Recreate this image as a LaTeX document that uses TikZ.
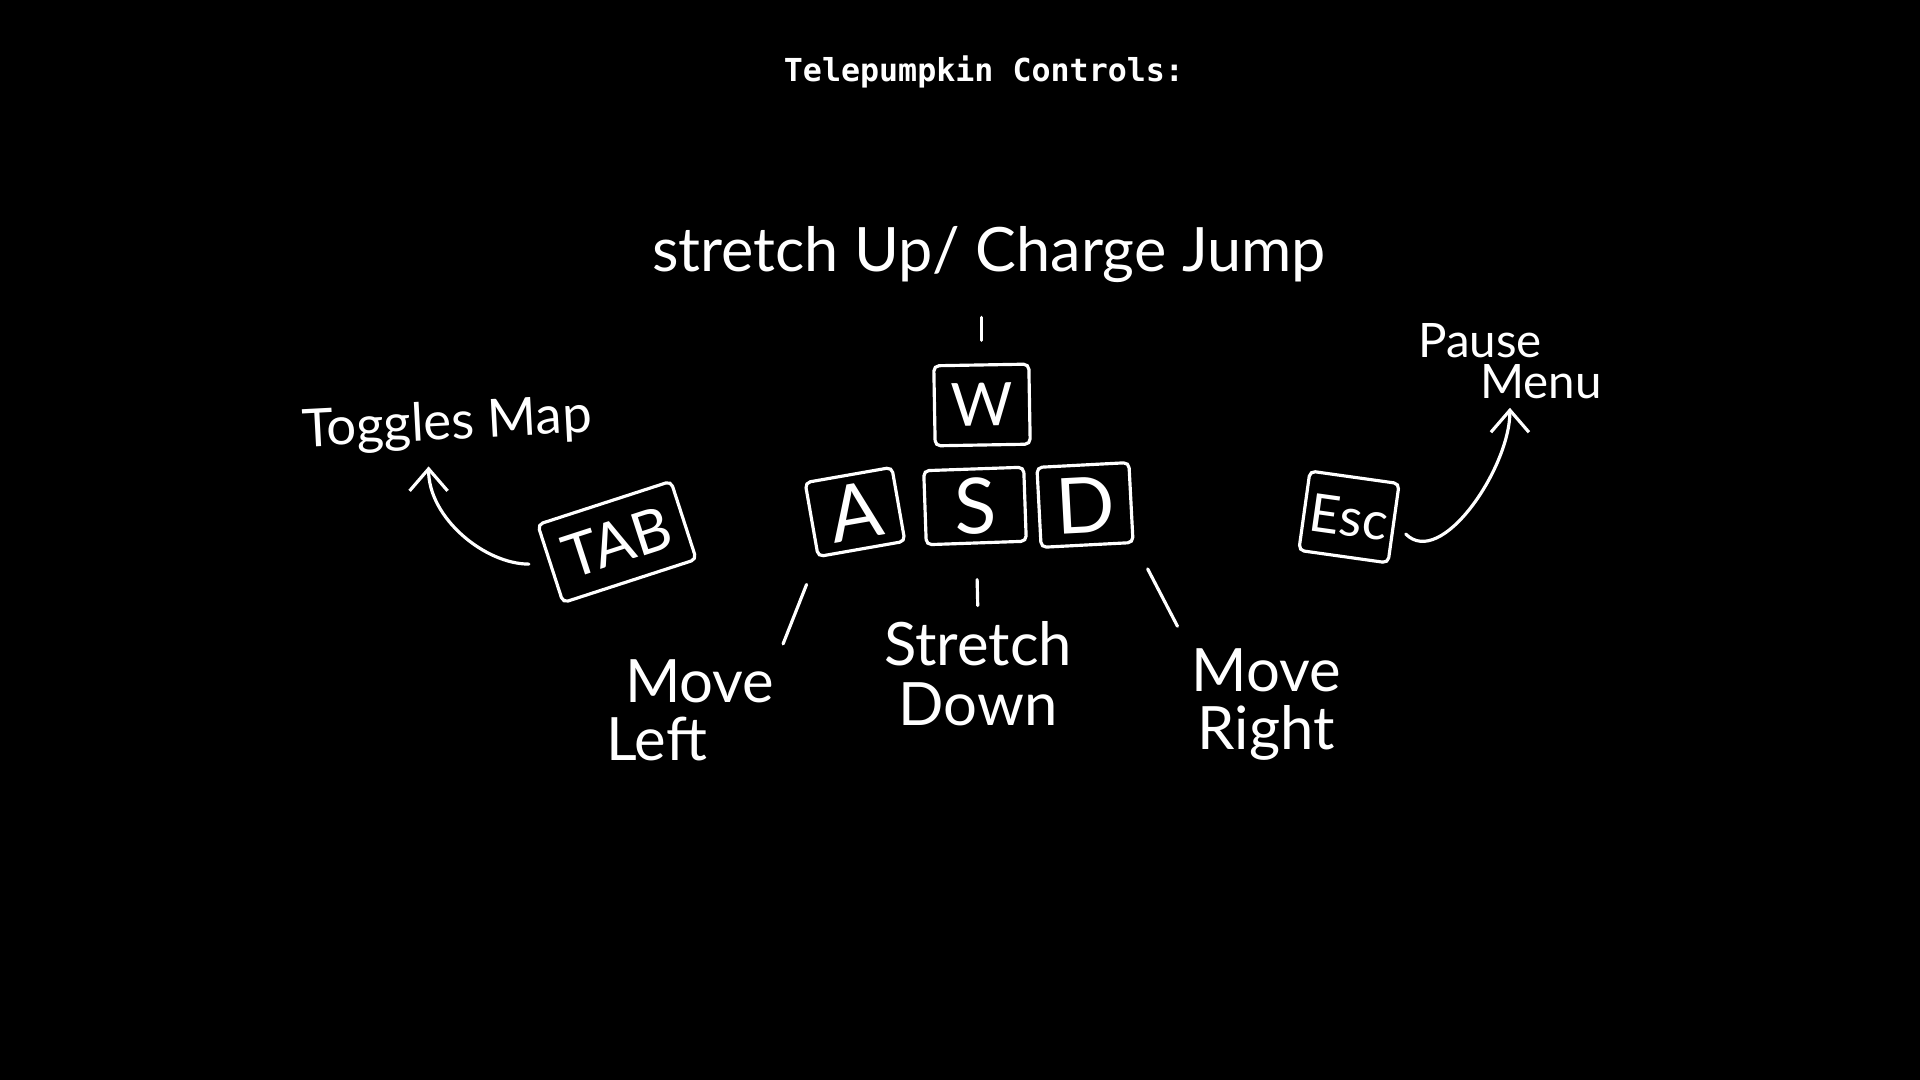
\documentclass[tikz,border=0pt]{standalone}
\usepackage{fontspec}
\setmainfont{Lato}
\newfontfamily\monofont{DejaVu Sans Mono}
\usetikzlibrary{arrows.meta}

\begin{document}
\begin{tikzpicture}[
  x=0.01cm, y=0.01cm,
  key/.style={draw=white,line width=0.9pt,rounded corners=1.5pt,inner sep=0pt,text=white},
  hand/.style={text=white,align=center,inner sep=1pt},
  tick/.style={draw=white,line width=0.9pt,line cap=round},
  curl/.style={white,line width=0.9pt,line cap=round,-{Straight Barb[length=0.22cm,width=0.38cm]}}
]

% ---- background ----
\fill[black] (0,0) rectangle (1920,1080);

% ---- title ----
\node[text=white,font={\monofont\bfseries\fontsize{9pt}{10pt}\selectfont}] (title) at (984,1008) {Telepumpkin Controls:};

% ---- keys ----
\node[key,minimum width=0.95cm,minimum height=0.80cm,rotate=1,font={\fontsize{17pt}{17pt}\selectfont}] (W) at (982,675) {W};
\node[key,minimum width=0.88cm,minimum height=0.75cm,rotate=10,font={\fontsize{22pt}{22pt}\selectfont}] (A) at (855,568) {A};
\node[key,minimum width=1.00cm,minimum height=0.74cm,rotate=2,font={\fontsize{22pt}{22pt}\selectfont}] (S) at (975,574) {S};
\node[key,minimum width=0.92cm,minimum height=0.80cm,rotate=3,font={\fontsize{22pt}{22pt}\selectfont}] (D) at (1085,575) {D};
\node[key,minimum width=1.40cm,minimum height=0.82cm,rotate=18,font={\fontsize{17pt}{17pt}\selectfont}] (tab) at (617,538) {TAB};
\node[key,minimum width=0.90cm,minimum height=0.80cm,rotate=-8,font={\fontsize{15pt}{15pt}\selectfont}] (esc) at (1349,563) {Esc};

% ---- labels ----
\node[hand,font={\fontsize{17.4pt}{18pt}\selectfont}] (up) at (989,825) {stretch Up/ Charge Jump};
\node[hand,rotate=3,font={\fontsize{15pt}{16pt}\selectfont}] (toggles) at (447,655) {Toggles Map};
\node[hand,align=left,anchor=west,font={\fontsize{13.5pt}{11.6pt}\selectfont}] (pause) at (1414,719) {Pause\\\hspace*{0.62cm}Menu};
\node[hand,align=left,anchor=west,font={\fontsize{17pt}{16.5pt}\selectfont}] (left) at (602,370) {\hspace*{0.19cm}Move\\Left};
\node[hand,font={\fontsize{17pt}{17pt}\selectfont}] (down) at (978,406) {Stretch\\Down};
\node[hand,font={\fontsize{17pt}{16.5pt}\selectfont}] (right) at (1266,375) {Move\\Right};

% ---- ticks from keys to labels ----
\draw[tick,shorten <=0.30cm,shorten >=0.23cm] (up.south -| W.north) -- (W.north);
\draw[tick,shorten <=0.35cm,shorten >=0.12cm] (S.south) -- (down.north);
\draw[tick,shorten <=0.28cm,shorten >=0.12cm] (A.south west) -- (left.north east);
\draw[tick,shorten <=0.28cm,shorten >=0.21cm] (D.south east) -- (right.north west);

% ---- curved arrows ----
\draw[curl,shorten <=0.2cm,shorten >=0.12cm] (tab.west) to[out=180,in=-90] (toggles.235);
\draw[curl,shorten <=0.15cm,shorten >=0.05cm] (esc.east) to[out=-45,in=-90] (pause.south);

\end{tikzpicture}
\end{document}
